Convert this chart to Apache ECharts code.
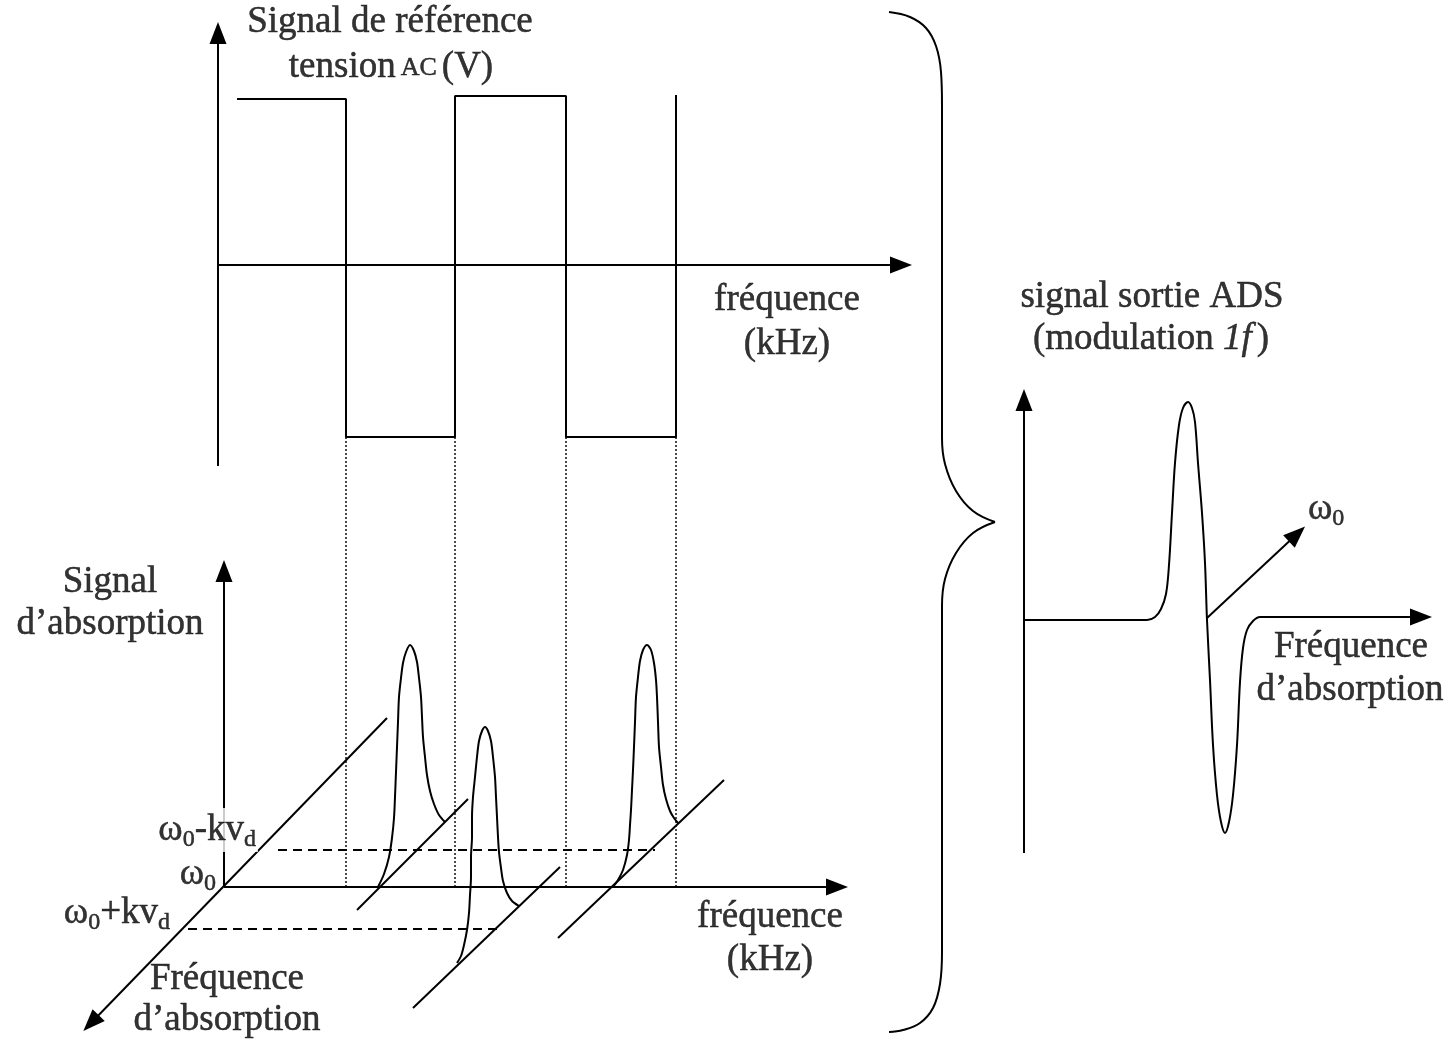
<!DOCTYPE html>
<html><head><meta charset="utf-8">
<script src="https://cdn.jsdelivr.net/npm/echarts@6.0.0/dist/echarts.min.js"></script>
<style>html,body{margin:0;padding:0;background:#fff}#c{width:1454px;height:1042px}</style>
</head><body><div id="c"></div>
<script>
// ---------- Data (figure units) ----------
const figW = 1454, figH = 1042;

// axes with a filled arrowhead at the end: [start, arrowhead centre]
const arrowAxes = [
  [[218, 466], [218, 33]],      // top: reference signal (V)
  [[218, 265], [901, 265]],     // top: fréquence (kHz)
  [[224, 887], [224, 571]],     // lower: signal d'absorption
  [[224, 887], [837, 887]],     // lower: fréquence (kHz)
  [[387, 718], [91, 1023]],     // lower: fréquence d'absorption (depth)
  [[1024, 853], [1024, 400]],   // right: signal sortie ADS
  [[1265, 617], [1421, 617]],   // right: fréquence d'absorption
  [[1207, 618], [1297, 534]]    // right: ω0 direction
];

// reference square wave (tension AC)
const squareWave = [[237, 99], [346, 99], [346, 437], [455, 437], [455, 96], [566, 96], [566, 437], [676, 437], [676, 95]];

// dotted projections of the square-wave edges
const edgeX = [346, 455, 566, 676];
const edgeTop = 437, edgeBottom = 887;

// dashed levels ω0-kvd and ω0+kvd
const dashedLevels = [[[278, 850], [655, 850]], [[188, 929], [499, 929]]];

// oblique baselines of the three absorption profiles
const baselines = [[[357, 910], [468, 799]], [[413, 1008], [560, 867]], [[558, 938], [724, 780]]];

// absorption profiles
const peak1 = [[378,887],[384,874],[389,857],[392,838],[394,818],[395,797],[396,772],[397,747],[398,722],[399,697],[401,678],[403,663],[406,652],[410,645],[414,651],[417,662],[419,678],[421,697],[422,717],[423,737],[425,757],[427,775],[430,791],[434,804],[439,815],[445,822]];
const peak2 = [[457,963],[461,956],[464,945],[467,930],[469,913],[470,895],[471,877],[471,857],[472,837],[472,817],[473,797],[475,777],[477,757],[479,741],[482,731],[485,727],[488,731],[491,741],[493,757],[495,777],[496,797],[497,817],[498,837],[499,852],[501,868],[503,881],[507,893],[512,901],[519,906]];
const peak3 = [[613,887],[618,880],[623,870],[627,855],[629,840],[630,825],[631,810],[632,790],[633,770],[634,747],[635,722],[636,697],[638,677],[640,661],[643,650],[647,645],[651,650],[654,663],[656,680],[657,697],[658,722],[659,747],[661,767],[663,785],[666,799],[670,811],[674,818],[678,823]];

// ADS output signal (1f modulation)
const adsSignal = [[1024,620],[1147,620],[1155,617],[1161,609],[1166,594],[1169,565],[1172,513],[1175,463],[1179,425],[1183,408],[1188,402],[1192,408],[1195,422],[1198,463],[1202,513],[1205,563],[1207,620],[1210,680],[1213,745],[1217,795],[1221,822],[1225,833],[1229,822],[1233,795],[1237,745],[1240,682],[1243,648],[1247,630],[1253,621],[1260,617],[1267,617]];

// curly brace
const braceUpper = [[889,12],[910,17],[926,28],[936,46],[941,72],[942,105],[942,438],[945,464],[956,491],[973,511],[995,522]];
const braceLower = [[995,522],[973,533],[956,553],[945,579],[942,606],[942,952],[940,984],[933,1008],[920,1023],[903,1030],[889,1032]];

// text annotations: [x, y, rich text, align]
const labels = [
  [390, 22,  '{t|Signal de référence}', 'center'],
  [391, 67,  '{t|tension}{s| }{sc|AC}{s| }{t|(V)}', 'center'],
  [787, 300, '{t|fréquence}', 'center'],
  [787, 344, '{t|(kHz)}', 'center'],
  [110, 582, '{t|Signal}', 'center'],
  [110, 624, '{t|d’absorption}', 'center'],
  [258, 830, '{t|ω}{sub|0}{t|-kv}{sub|d}', 'right'],
  [218, 874, '{t|ω}{sub|0}', 'right'],
  [172, 913, '{t|ω}{sub|0}{t|+kv}{sub|d}', 'right'],
  [227, 979, '{t|Fréquence}', 'center'],
  [227, 1020,'{t|d’absorption}', 'center'],
  [770, 917, '{t|fréquence}', 'center'],
  [770, 960, '{t|(kHz)}', 'center'],
  [1152, 297,'{t|signal sortie ADS}', 'center'],
  [1151, 339,'{t|(modulation }{i|1f}{s| }{t|)}', 'center'],
  [1306, 509,'{t|ω}{sub|0}', 'left'],
  [1351, 647,'{t|Fréquence}', 'center'],
  [1350, 690,'{t|d’absorption}', 'center']
];

// ---------- Chart ----------
const FONT = '"Liberation Serif", "Times New Roman", serif';
const black = '#000';
const ink = { color: black, textBorderColor: black, textBorderWidth: 0.5 };
const rich = {
  t:   Object.assign({ fontFamily: FONT, fontSize: 37, lineHeight: 44 }, ink),
  i:   Object.assign({ fontFamily: FONT, fontSize: 37, lineHeight: 44, fontStyle: 'italic' }, ink),
  s:   Object.assign({ fontFamily: FONT, fontSize: 20, lineHeight: 44 }, ink),
  sc:  Object.assign({ fontFamily: FONT, fontSize: 26, lineHeight: 36, verticalAlign: 'bottom', padding: [0, 0, 8, 0] }, ink),
  sub: Object.assign({ fontFamily: FONT, fontSize: 24, lineHeight: 22, verticalAlign: 'bottom' }, ink)
};

function curve(data, smooth) {
  return { type: 'line', data: data, smooth: smooth, symbol: 'none', showSymbol: false,
           lineStyle: { color: black, width: 2 }, silent: true, z: 3 };
}
function segs(list, style, extra) {
  return Object.assign({ type: 'lines', coordinateSystem: 'cartesian2d', polyline: false,
    data: list.map(c => ({ coords: c })), lineStyle: Object.assign({ color: black, width: 2, opacity: 1 }, style),
    silent: true, z: 3 }, extra || {});
}

const option = {
  animation: false,
  backgroundColor: '#fff',
  grid: { left: 0, top: 0, width: figW, height: figH, containLabel: false },
  xAxis: { type: 'value', min: 0, max: figW, show: false },
  yAxis: { type: 'value', min: 0, max: figH, inverse: true, show: false },
  series: [
    curve(squareWave, false),
    segs(edgeX.map(x => [[x, edgeTop], [x, edgeBottom]]), { type: [2, 2], width: 1.5, color: '#111' }),
    segs(dashedLevels, { type: [9, 6], width: 2 }),
    segs(baselines, {}),
    segs(arrowAxes, {}, { symbol: ['none', 'triangle'], symbolSize: [[0, 0], [17, 22]] }),
    curve(peak1, 0.3),
    curve(peak2, 0.3),
    curve(peak3, 0.3),
    curve(adsSignal, 0.35),
    curve(braceUpper, 0.4),
    curve(braceLower, 0.4),
    {
      type: 'scatter', symbolSize: 1, itemStyle: { color: 'rgba(0,0,0,0)' }, silent: true, z: 10,
      data: labels.map(l => ({
        value: [l[0], l[1]],
        label: {
          show: true, position: 'inside', align: l[3], verticalAlign: 'middle', color: black,
          formatter: l[2], rich: rich,
          backgroundColor: l[2].indexOf('-kv') >= 0 ? '#fff' : 'transparent',
          padding: [0, 2]
        }
      }))
    }
  ]
};

const chart = echarts.init(document.getElementById('c'), null, { renderer: 'canvas', width: figW, height: figH });
chart.setOption(option);
</script>
</body></html>
